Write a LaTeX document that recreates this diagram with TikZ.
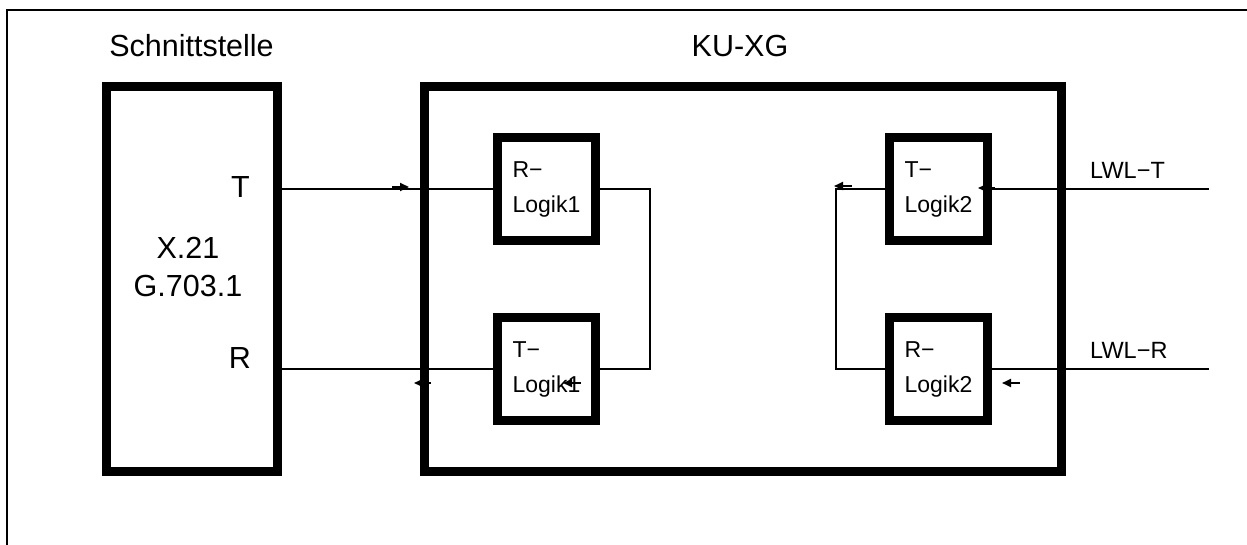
\documentclass[tikz,border=0pt]{standalone}
\usepackage{fontspec}
\setmainfont{Liberation Sans}
\usetikzlibrary{arrows.meta}

\begin{document}
\begin{tikzpicture}[x=1pt, y=-1pt]

    \useasboundingbox (0,0) rectangle (1247,545);

    \tikzset{bigbox/.style={draw, line width=9.5pt, minimum width=171pt, minimum height=385pt, inner sep=0pt},
             logik/.style={draw, line width=9.5pt, minimum width=98pt, minimum height=103pt, inner sep=0pt,
                           align=left, font=\fontsize{23}{35}\selectfont},
             lbl/.style={font=\fontsize{30.5}{39}\selectfont, inner sep=0pt},
             lwl/.style={font=\fontsize{23.5}{28}\selectfont, inner sep=0pt, anchor=west},
             wire/.style={line width=1.6pt},
             tip/.style={line width=2pt, -{Triangle[length=9pt, width=8pt]}}}

    \draw[line width=2pt] (7,545) -- (7,10) -- (1247,10);

    \node[lbl] (schnittTitle) at (191.5,46) {Schnittstelle};
    \node[lbl] (kuTitle) at (740,46) {KU-XG};

    \node[bigbox] (schnitt) at (192,279) {};
    \node[bigbox, minimum width=637pt] (kuxg) at (743,279) {};

    \node[lbl] (tlabel) at (240.5,187) {T};
    \node[lbl] (rlabel) at (240,358) {R};
    \node[lbl, align=center] (norm) at (188,267) {X.21\\G.703.1};

    \node[logik] (rlog1) at (546.5,189) {R−\\Logik1};
    \node[logik] (tlog1) at (546.5,369) {T−\\Logik1};
    \node[logik] (tlog2) at (938.5,189) {T−\\Logik2};
    \node[logik] (rlog2) at (938.5,369) {R−\\Logik2};

    \coordinate (lwlT) at (1209,189);
    \coordinate (lwlR) at (1209,369);
    \node[lwl] (lwlTtext) at (1090,170) {LWL−T};
    \node[lwl] (lwlRtext) at (1090,350) {LWL−R};

    \draw[wire] (rlog1.west -| schnitt.east) -- (rlog1.west);
    \draw[wire] (rlog1.east) -- ++(49.5,0) |- (tlog1.east);
    \draw[wire] (tlog1.west) -- (tlog1.west -| schnitt.east);
    \draw[wire] (lwlT) -- (tlog2.east);
    \draw[wire] (tlog2.west) -- ++(-48.5,0) |- (rlog2.west);
    \draw[wire] (lwlR) -- (rlog2.east);

    \foreach \xa/\xb/\y in {392/409/187, 431/414/383, 581/563/383, 852/834/186, 995/978/188, 1020/1002/383} {
        \draw[tip] (\xa,\y) -- (\xb,\y);
    }

\end{tikzpicture}
\end{document}
